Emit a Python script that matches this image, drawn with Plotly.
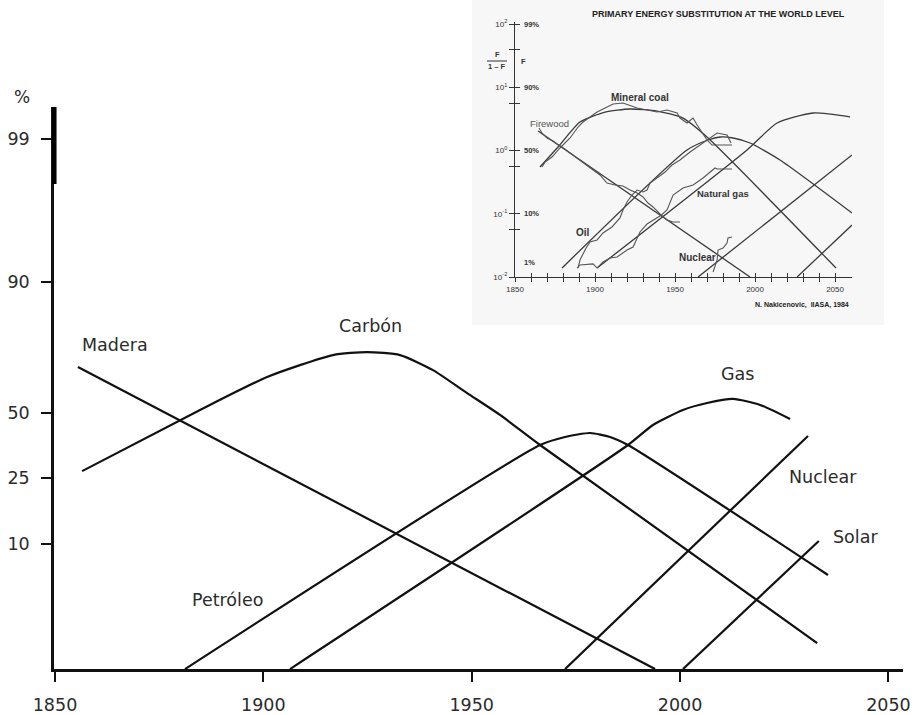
import numpy as np
import plotly.graph_objects as go

W, H = 915, 715

# ---------------- main chart: market share (%) on a logistic scale ----------------
BASE = 1.335  # share level at the horizontal axis

madera_year = [1855.5, 1994.0]
madera_pct = [68.3, BASE]

carbon_year = [1856.5, 1884.8, 1900.9, 1916.7, 1924.9, 1932.8, 1940.7, 1948.9, 1956.8, 1966.4, 2032.9]
carbon_pct = [27.3, 51.2, 64.6, 72.5, 73.5, 72.5, 67.2, 58.2, 49.1, 36.8, 2.05]

petroleo_year = [1881.2, 1966.4, 1972.4, 1978.4, 1983.2, 1987.5, 2035.5]
petroleo_pct = [BASE, 36.8, 40.0, 41.6, 40.0, 36.8, 6.16]

gas_year = [1906.4, 1987.5, 1993.5, 2000.7, 2006.5, 2012.7, 2019.2, 2026.4]
gas_pct = [BASE, 36.8, 44.9, 51.2, 54.1, 55.8, 53.3, 47.4]

nuclear_year = [1972.4, 2030.7]
nuclear_pct = [BASE, 40.4]

solar_year = [2000.7, 2033.3]
solar_pct = [BASE, 10.4]

main_labels = ["Madera", "Carbón", "Petróleo", "Gas", "Nuclear", "Solar"]
main_label_year = [1864.4, 1925.6, 1891.3, 2013.7, 2034.3, 2042.0]
main_label_pct = [75.7, 81.1, 4.13, 65.7, 25.4, 11.0]

y_tick_pct = [10, 25, 50, 90, 99]
x_tick_years = [1850, 1900, 1950, 2000, 2050]

# ---------------- inset: F/(1-F) on a log scale ----------------
firewood_fit_year = [1864.4, 1996.9]
firewood_fit_ratio = [2.03, 0.0100]

coal_fit_year = [1865.6, 1876.9, 1890.6, 1906.3, 1921.9, 1938.8, 1955.0, 1970.0, 2050.6]
coal_fit_ratio = [0.548, 1.135, 2.82, 4.06, 4.53, 4.21, 3.26, 1.635, 0.01387]

oil_fit_year = [1879.4, 1957.5, 1970.6, 1978.1, 1986.3, 1996.9, 2015.6, 2060.6]
oil_fit_ratio = [0.01387, 1.02, 1.466, 1.635, 1.577, 1.314, 0.708, 0.1028]

gas_fit_year = [1901.3, 1995.0, 2013.8, 2036.3, 2059.4]
gas_fit_ratio = [0.01387, 1.02, 2.72, 3.92, 3.39]

nuclear_fit_year = [1964.4, 2060.6]
nuclear_fit_ratio = [0.0100, 0.849]

solar_fit_year = [2026.3, 2060.6]
solar_fit_ratio = [0.0100, 0.0664]

firewood_obs_year = [1865.0, 1866.9, 1870.0, 1873.8, 1876.3, 1879.4, 1884.4, 1890.6, 1898.8,
                     1903.1, 1907.5, 1912.5, 1917.5, 1921.9, 1926.3, 1930.0, 1933.1, 1936.3,
                     1940.6, 1945.0, 1948.8, 1953.1]
firewood_obs_ratio = [2.27, 1.89, 1.577, 1.413, 1.267, 1.135, 0.912, 0.708, 0.492,
                      0.410, 0.306, 0.285, 0.275, 0.237, 0.213, 0.184, 0.148, 0.128,
                      0.0991, 0.0796, 0.0741, 0.0741]

coal_obs_year = [1866.9, 1868.8, 1873.1, 1878.1, 1884.4, 1889.4, 1892.5, 1901.3, 1911.3,
                 1917.5, 1926.3, 1932.5, 1938.8, 1945.0, 1951.3, 1953.1, 1957.5, 1961.3,
                 1963.8, 1970.0, 1973.1, 1985.6]
coal_obs_ratio = [0.548, 0.658, 0.789, 1.096, 1.577, 2.35, 2.82, 4.06, 5.43,
                  5.64, 4.70, 4.37, 4.06, 4.37, 3.92, 3.26, 2.72, 3.26,
                  2.53, 1.466, 1.22, 1.22]

oil_obs_year = [1889.4, 1890.6, 1894.4, 1896.9, 1901.3, 1905.0, 1910.6, 1915.6, 1917.5,
                1920.0, 1923.1, 1926.3, 1930.0, 1932.5, 1934.4, 1938.8, 1943.8, 1948.1,
                1953.1, 1959.4, 1965.6, 1970.6, 1976.3, 1982.5, 1985.0]
oil_obs_ratio = [0.01387, 0.01857, 0.0287, 0.0357, 0.0385, 0.0497, 0.0618, 0.0857, 0.1146,
                 0.1535, 0.1977, 0.237, 0.221, 0.237, 0.306, 0.367, 0.457, 0.590,
                 0.708, 0.947, 1.22, 1.466, 1.89, 1.758, 1.314]

gas_obs_year = [1888.8, 1890.6, 1898.8, 1901.3, 1905.0, 1909.4, 1913.8, 1920.0, 1923.8,
                1928.1, 1932.5, 1936.3, 1940.6, 1945.0, 1948.8, 1955.0, 1961.3, 1967.5,
                1971.9, 1975.0, 1976.3, 1985.6]
gas_obs_ratio = [0.01387, 0.0155, 0.0161, 0.01387, 0.0173, 0.020, 0.0207, 0.0267, 0.0298,
                 0.0515, 0.0688, 0.0796, 0.092, 0.1146, 0.1977, 0.255, 0.285, 0.367,
                 0.457, 0.529, 0.510, 0.510]

nuclear_obs_year = [1973.8, 1976.3, 1976.9, 1980.0, 1982.5, 1983.1, 1985.6]
nuclear_obs_ratio = [0.0120, 0.01857, 0.0267, 0.0287, 0.0345, 0.0414, 0.0429]

inset_major_ratio = [0.01, 0.1, 1, 10, 100]
inset_major_text = ["10<sup>-2</sup>", "10<sup>-1</sup>", "10<sup>0</sup>", "10<sup>1</sup>", "10<sup>2</sup>"]
inset_minor_ratio = [0.0562, 0.562, 5.62, 39.8]
inset_pct_text = ["1%", "10%", "50%", "90%", "99%"]
inset_pct_logpos = [-1.763, -1.0, 0.0, 1.0, 2.0]
inset_year_ticks = list(range(1850, 2051, 10))


def logit(p):
    p = np.asarray(p, dtype=float) / 100.0
    return np.log(p / (1.0 - p))


def px(x):
    return x / W


def py(y):
    return 1.0 - y / H


MAIN_FONT = "DejaVu Sans"
TEXT_C = "#2b2b2b"
LINE_C = "#111111"
INSET_FONT = "Liberation Sans"
INSET_C = "#333333"

fig = go.Figure()

# inset background panel
fig.add_shape(type="rect", xref="paper", yref="paper",
              x0=px(472), x1=px(884), y0=py(325), y1=py(0),
              fillcolor="#f7f7f7", line=dict(width=0), layer="below")

# main curves
main_series = [
    (madera_year, madera_pct),
    (carbon_year, carbon_pct),
    (petroleo_year, petroleo_pct),
    (gas_year, gas_pct),
    (nuclear_year, nuclear_pct),
    (solar_year, solar_pct),
]
for yrs, pct in main_series:
    fig.add_trace(go.Scatter(
        x=yrs, y=logit(pct), mode="lines",
        line=dict(color=LINE_C, width=2.2, shape="spline", smoothing=0.6),
        hoverinfo="skip", showlegend=False, xaxis="x", yaxis="y"))

for name, yr, p in zip(main_labels, main_label_year, main_label_pct):
    fig.add_annotation(x=yr, y=float(logit([p])[0]), xref="x", yref="y",
                       text=name, showarrow=False, xanchor="center", yanchor="middle",
                       font=dict(family=MAIN_FONT, size=17.5, color=TEXT_C))

# inset fitted curves
fit_series = [
    (firewood_fit_year, firewood_fit_ratio),
    (coal_fit_year, coal_fit_ratio),
    (oil_fit_year, oil_fit_ratio),
    (gas_fit_year, gas_fit_ratio),
    (nuclear_fit_year, nuclear_fit_ratio),
    (solar_fit_year, solar_fit_ratio),
]
for yrs, r in fit_series:
    fig.add_trace(go.Scatter(
        x=yrs, y=r, mode="lines",
        line=dict(color="#3a3a3a", width=1.3, shape="spline", smoothing=0.6),
        hoverinfo="skip", showlegend=False, xaxis="x2", yaxis="y2"))

# inset historical data
obs_series = [
    (firewood_obs_year, firewood_obs_ratio),
    (coal_obs_year, coal_obs_ratio),
    (oil_obs_year, oil_obs_ratio),
    (gas_obs_year, gas_obs_ratio),
    (nuclear_obs_year, nuclear_obs_ratio),
]
for yrs, r in obs_series:
    fig.add_trace(go.Scatter(
        x=yrs, y=r, mode="lines",
        line=dict(color="#555555", width=1.1),
        hoverinfo="skip", showlegend=False, xaxis="x2", yaxis="y2"))

# carriers for the overlaid tick axes of the inset
fig.add_trace(go.Scatter(x=[1850], y=[1], mode="markers", marker=dict(opacity=0),
                         hoverinfo="skip", showlegend=False, xaxis="x3", yaxis="y2"))
fig.add_trace(go.Scatter(x=[1850], y=[1], mode="markers", marker=dict(opacity=0),
                         hoverinfo="skip", showlegend=False, xaxis="x2", yaxis="y3"))

inset_text = [
    ("Mineral coal", 1928.1, 0.846, True, 10, INSET_C),
    ("Firewood", 1871.3, 0.435, False, 9.5, "#555555"),
    ("Oil", 1892.5, -1.304, True, 10, INSET_C),
    ("Natural gas", 1980.0, -0.672, True, 9.5, INSET_C),
    ("Nuclear", 1963.8, -1.684, True, 10, INSET_C),
]
for t, xx, yy, bold, sz, col in inset_text:
    fig.add_annotation(x=xx, y=yy, xref="x2", yref="y2",
                       text=f"<b>{t}</b>" if bold else t, showarrow=False,
                       xanchor="center", yanchor="middle",
                       font=dict(family=INSET_FONT, size=sz, color=col))

for t, yy in zip(inset_pct_text, inset_pct_logpos):
    fig.add_annotation(x=px(522), y=yy, xref="paper", yref="y2",
                       text=f"<b>{t}</b>", showarrow=False,
                       xanchor="left", yanchor="middle",
                       font=dict(family=INSET_FONT, size=7.5, color=INSET_C))


def paper_text(txt, x, y, size, color=INSET_C, family=INSET_FONT):
    fig.add_annotation(x=px(x), y=py(y), xref="paper", yref="paper", text=txt,
                       showarrow=False, xanchor="center", yanchor="middle",
                       font=dict(family=family, size=size, color=color))


paper_text("<b>PRIMARY ENERGY SUBSTITUTION AT THE WORLD LEVEL</b>", 718, 14, 9, "#222222")
paper_text("<b>N. Nakicenovic,  IIASA, 1984</b>", 802, 305, 7, "#222222")
paper_text("<b>F</b>", 497, 55, 7.5)
paper_text("<b>1 – F</b>", 497, 67, 7.5)
paper_text("<b>F</b>", 523, 62, 7.5)
fig.add_shape(type="line", xref="paper", yref="paper",
              x0=px(487), x1=px(507), y0=py(61), y1=py(61),
              line=dict(color=INSET_C, width=1))

# "%" header of the main vertical axis
paper_text("%", 22, 97, 17, TEXT_C, MAIN_FONT)

# heavier top stretch of the main vertical axis
fig.add_shape(type="line", xref="paper", yref="paper",
              x0=px(54.3), x1=px(54.3), y0=py(107), y1=py(184),
              line=dict(color="#000000", width=4.5))

main_font = dict(family=MAIN_FONT, size=17.5, color=TEXT_C)
inset_tick_font = dict(family=INSET_FONT, size=8, color=INSET_C)

fig.update_layout(
    width=W, height=H,
    margin=dict(l=0, r=0, t=0, b=0, autoexpand=False),
    paper_bgcolor="white", plot_bgcolor="rgba(0,0,0,0)",
    showlegend=False,
    xaxis=dict(domain=[px(54), px(903)], range=[1849.76, 2053.5], anchor="y",
               tickvals=x_tick_years, ticktext=[str(v) for v in x_tick_years],
               ticks="outside", ticklen=10, tickwidth=2, tickcolor="#111",
               showline=True, linecolor="#111", linewidth=2.6,
               showgrid=False, zeroline=False, tickfont=main_font,
               ticklabelstandoff=8, automargin=False),
    yaxis=dict(domain=[py(669), py(107)], range=[-4.302, 5.135], anchor="x",
               tickvals=list(logit(y_tick_pct)), ticktext=[str(v) for v in y_tick_pct],
               ticks="outside", ticklen=10, tickwidth=2, tickcolor="#111",
               showline=True, linecolor="#111", linewidth=2.6,
               showgrid=False, zeroline=False, tickfont=main_font,
               ticklabelstandoff=8, automargin=False),
    xaxis2=dict(domain=[px(515), px(852)], range=[1850, 2060.6], anchor="y2",
                tickvals=inset_year_ticks,
                ticktext=[str(v) if v % 50 == 0 else "" for v in inset_year_ticks],
                ticks="outside", ticklen=4, tickwidth=1.2, tickcolor=INSET_C,
                showline=True, linecolor=INSET_C, linewidth=1.3,
                showgrid=False, zeroline=False, tickfont=inset_tick_font,
                automargin=False),
    xaxis3=dict(overlaying="x2", anchor="y2", range=[1850, 2060.6],
                tickvals=inset_year_ticks, ticks="inside", ticklen=4, tickwidth=1.2,
                tickcolor=INSET_C, showticklabels=False, showline=False,
                showgrid=False, zeroline=False, automargin=False),
    yaxis2=dict(domain=[py(277), py(22)], type="log", range=[-2, 2.032], anchor="x2",
                tickvals=inset_major_ratio + inset_minor_ratio,
                ticktext=inset_major_text + [""] * len(inset_minor_ratio),
                ticks="outside", ticklen=5, tickwidth=1.2, tickcolor=INSET_C,
                showline=True, linecolor=INSET_C, linewidth=1.3,
                showgrid=False, zeroline=False, tickfont=inset_tick_font,
                automargin=False),
    yaxis3=dict(overlaying="y2", anchor="x2", type="log", range=[-2, 2.032],
                tickvals=inset_major_ratio + inset_minor_ratio,
                ticks="inside", ticklen=5, tickwidth=1.2, tickcolor=INSET_C,
                showticklabels=False, showline=False, showgrid=False, zeroline=False,
                automargin=False),
)

fig.write_html("out.html")
